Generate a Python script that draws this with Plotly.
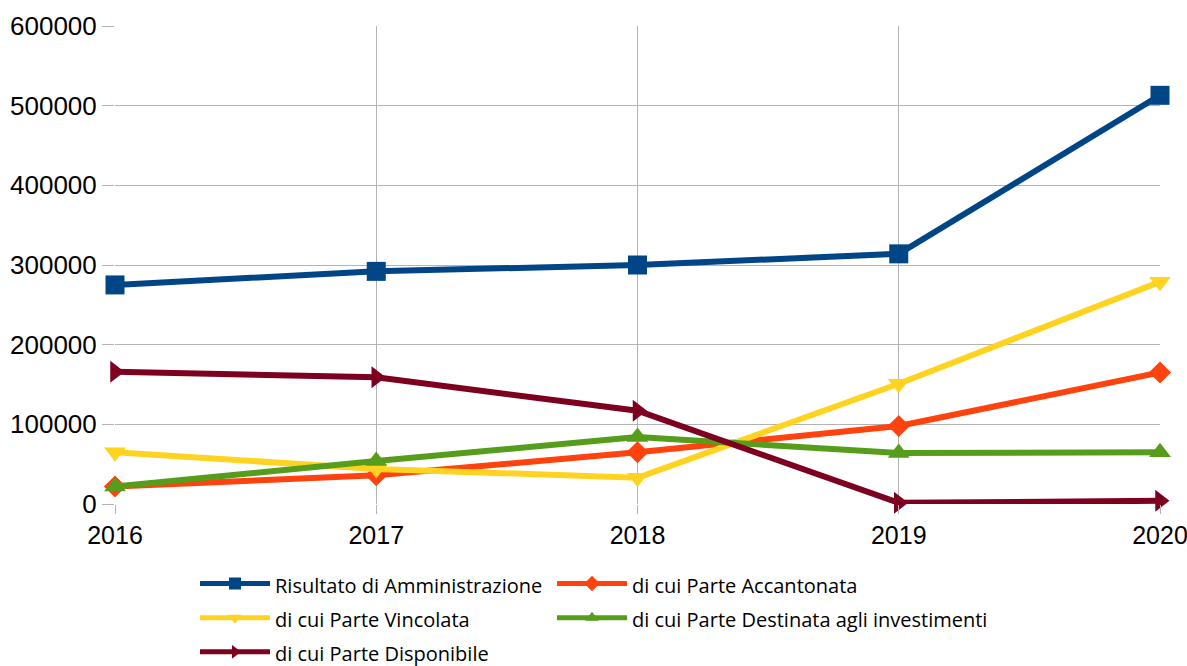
import plotly.graph_objects as go

years = [2016, 2017, 2018, 2019, 2020]
risultato = [275000, 292000, 300000, 314000, 513000]
accantonata = [22000, 36000, 65000, 98000, 165000]
vincolata = [65000, 44000, 33000, 151000, 279000]
destinata = [22000, 54000, 84000, 64000, 65000]
disponibile = [166000, 159000, 117000, 1500, 4000]

series = [
    ("Risultato di Amministrazione", risultato, "#004586", "square", 19, "legend"),
    ("di cui Parte Accantonata", accantonata, "#ff420e", "diamond", 17, "legend2"),
    ("di cui Parte Vincolata", vincolata, "#ffd320", "triangle-down", 19, "legend"),
    ("di cui Parte Destinata agli investimenti", destinata, "#579d1c", "triangle-up", 19, "legend2"),
    ("di cui Parte Disponibile", disponibile, "#7e0021", "triangle-right", 19, "legend"),
]

fig = go.Figure()
for name, vals, color, sym, size, lg in series:
    fig.add_trace(go.Scatter(
        x=years, y=vals,
        name="<span style='font-size:20px'>" + name + "</span>",
        legend=lg,
        mode="lines+markers",
        line=dict(color=color, width=6),
        marker=dict(symbol=sym, size=size, color=color),
        cliponaxis=False,
    ))

legend_common = dict(
    orientation="v", xref="paper", xanchor="left",
    yanchor="top", itemwidth=70,
    font=dict(family="Open Sans, Liberation Sans, sans-serif", size=24, color="black"),
    itemsizing="constant", bgcolor="rgba(0,0,0,0)",
)

fig.update_layout(
    width=1187, height=666,
    margin=dict(l=115, r=27, t=26, b=162, autoexpand=False),
    paper_bgcolor="white", plot_bgcolor="white",
    font=dict(family="Liberation Sans, Arial, sans-serif", color="black"),
    xaxis=dict(
        range=[2016, 2020], tickvals=years, ticktext=[str(y) for y in years],
        showgrid=True, gridcolor="#b3b3b3", gridwidth=1,
        ticks="outside", ticklen=9, tickcolor="#b3b3b3",
        tickfont=dict(size=25), zeroline=False, showline=False,
        automargin=False, ticklabeloverflow="allow",
    ),
    yaxis=dict(
        range=[0, 600000], tickvals=[0, 100000, 200000, 300000, 400000, 500000, 600000],
        ticktext=["0", "100000", "200000", "300000", "400000", "500000", "600000"],
        showgrid=True, gridcolor="#b3b3b3", gridwidth=1,
        ticks="outside", ticklen=12, tickcolor="#b3b3b3",
        tickfont=dict(size=26), zeroline=False, showline=False,
        automargin=False, ticklabeloverflow="allow",
    ),
    legend=dict(legend_common, x=(195 - 115) / 1045, y=-0.12),
    legend2=dict(legend_common, x=(552 - 115) / 1045, y=-0.12),
    showlegend=True,
)

fig.write_html("out.html", post_script="document.body.style.margin='0';",
               config={"displayModeBar": False})
